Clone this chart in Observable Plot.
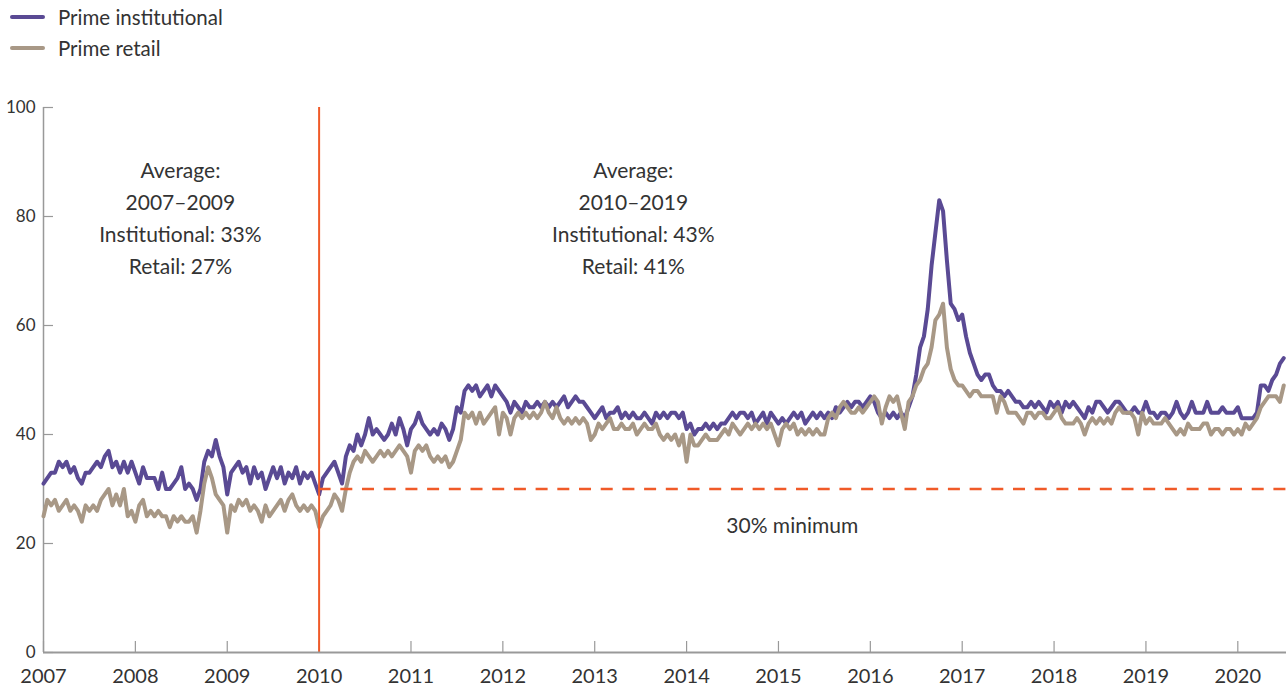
<!DOCTYPE html>
<html><head><meta charset="utf-8">
<script src="https://cdn.jsdelivr.net/npm/d3@7"></script>
<script src="https://cdn.jsdelivr.net/npm/@observablehq/plot@0.6"></script>
<style>
body{margin:0;background:#fff;font-family:Lato,"Open Sans",sans-serif;}
#legend{height:80px;position:relative;}
.item{position:absolute;left:10px;display:flex;align-items:center;font-size:20.5px;color:#333;line-height:24px;}
.sw{width:35px;height:4px;border-radius:2px;margin-right:13px;}
</style></head><body>
<div id="legend"></div><div id="chart"></div>
<script>
// Weekly-ish series, two readings per month from Jan 2007
const startYear = 2007;
const perYear = 24;
const seriesNames = ["Prime institutional", "Prime retail"];
const seriesColors = ["#5a4a94", "#a89886"];

const institutional = [
// 2007
31,32,33,33,35,34,35,33,34,32,31,33,33,34,35,34,36,37,34,35,33,35,33,35,
// 2008
33,31,34,32,32,32,30,33,30,30,31,32,34,30,31,30,28,30,35,37,36,39,36,34,
// 2009
29,33,34,35,33,34,31,34,32,33,30,32,34,32,34,31,33,32,34,31,33,32,33,31,
// 2010
29,32,33,34,35,33,31,36,38,37,40,38,40,43,40,41,40,39,40,42,40,43,41,38,
// 2011
41,42,44,42,41,40,41,40,42,41,39,41,45,44,48,49,48,49,47,48,49,47,49,48,
// 2012
47,46,44,46,45,44,46,45,45,46,45,46,45,46,45,46,47,45,46,47,46,46,45,44,
// 2013
43,44,45,43,44,44,45,43,44,43,44,43,43,44,43,42,44,43,44,43,44,44,43,44,
// 2014
41,42,40,41,41,42,41,42,41,42,42,43,44,43,44,44,43,44,42,43,44,42,44,43,
// 2015
42,43,42,43,44,43,44,42,43,44,43,44,43,44,43,45,44,45,46,45,46,46,45,46,
// 2016
47,46,44,43,44,43,44,43,44,43,45,47,51,56,58,63,71,77,83,81,72,64,63,61,
// 2017
62,58,55,53,51,50,51,51,49,48,48,47,48,47,46,46,45,45,46,45,46,45,44,46,
// 2018
45,46,44,46,45,46,45,44,43,45,44,46,46,45,44,45,46,46,45,44,44,45,44,44,
// 2019
46,44,44,43,44,44,43,44,46,44,43,44,46,44,44,44,46,44,44,44,45,44,44,44,
// 2020
45,43,43,43,43,44,49,49,48,50,51,53,54
];

const retail = [
// 2007
25,28,27,28,26,27,28,26,27,26,24,27,26,27,26,28,29,30,27,29,27,30,25,26,
// 2008
24,27,28,25,26,25,26,25,25,23,25,24,25,24,24,25,22,26,31,34,32,29,28,27,
// 2009
22,27,26,28,27,28,26,27,26,24,27,25,26,27,28,26,28,29,27,26,27,26,27,26,
// 2010
23,25,26,27,29,28,26,30,33,35,36,35,37,36,35,36,37,36,37,36,37,38,37,36,
// 2011
33,37,38,37,38,36,35,36,35,36,34,35,37,39,44,43,44,42,44,42,43,44,45,40,
// 2012
44,43,40,43,44,43,44,43,44,43,44,46,44,43,45,43,42,43,42,43,42,43,42,39,
// 2013
40,42,41,42,43,41,41,42,41,41,42,40,41,42,41,41,42,40,39,40,39,40,38,40,
// 2014
35,40,38,38,39,40,39,39,39,40,41,40,42,41,40,41,42,41,42,41,42,41,42,40,
// 2015
38,41,42,41,42,40,41,40,41,40,41,40,40,43,44,43,45,46,45,44,44,45,44,45,
// 2016
46,47,46,42,45,47,46,47,44,41,46,47,49,50,52,53,56,61,62,64,56,52,50,49,
// 2017
49,48,47,48,48,47,47,47,47,44,47,46,44,44,44,43,42,44,44,43,44,44,43,43,
// 2018
44,45,43,42,42,42,43,42,40,42,43,42,43,42,43,42,44,45,44,44,44,43,40,44,
// 2019
42,43,42,42,42,43,42,41,40,41,40,42,41,41,41,42,42,40,41,41,40,41,41,40,
// 2020
41,40,42,41,42,43,45,46,47,47,47,46,49
];

const xTicks = [2007,2008,2009,2010,2011,2012,2013,2014,2015,2016,2017,2018,2019,2020];
const yTicks = [0,20,40,60,80,100];
const xDomain = [2007, 2020.53];
const ruleYear = 2010;
const minimumLevel = 30;
const annotations = [
  {x: 2008.49, y: 80.1, text: "Average:\n2007–2009\nInstitutional: 33%\nRetail: 27%"},
  {x: 2013.42, y: 80.1, text: "Average:\n2010–2019\nInstitutional: 43%\nRetail: 41%"},
  {x: 2015.15, y: 23.8, text: "30% minimum"}
];

const rows = [];
[institutional, retail].forEach((arr, k) => arr.forEach((v, i) => rows.push({t: startYear + i / perYear, v, s: seriesNames[k]})));

// legend
const legend = document.getElementById("legend");
seriesNames.forEach((n, k) => {
  const d = document.createElement("div");
  d.className = "item";
  d.style.top = (5 + k * 31) + "px";
  d.innerHTML = `<span class="sw" style="background:${seriesColors[k]}"></span><span>${n}</span>`;
  legend.appendChild(d);
});

const W = 1286, H = 612, mT = 27, mB = 40, mL = 43, mR = 0;
const orange = "#f05a28";
const chart = Plot.plot({
  width: W, height: H, marginTop: mT, marginBottom: mB, marginLeft: mL, marginRight: mR,
  style: {fontFamily: "Lato, 'Open Sans', sans-serif", color: "#333", background: "#fff"},
  x: {domain: xDomain},
  y: {domain: [0, 100]},
  color: {domain: seriesNames, range: seriesColors},
  marks: [
    Plot.tickY(yTicks, {y: d => d, stroke: "#999", strokeWidth: 1.2, insetRight: W - mL - mR - 10}),
    Plot.tickX(xTicks, {x: d => d, stroke: "#999", strokeWidth: 1.2, insetTop: H - mT - mB - 11}),
    Plot.ruleX([xDomain[0]], {y1: 0, y2: 100, stroke: "#999", strokeWidth: 1.5}),
    Plot.axisY(yTicks, {tickSize: 0, tickPadding: 8, fontSize: 17}),
    Plot.axisX(xTicks, {tickSize: 0, tickPadding: 16, fontSize: 20, tickFormat: d => String(d)}),
    Plot.line(rows, {x: "t", y: "v", z: "s", stroke: "s", strokeWidth: 4, curve: "linear"}),
    Plot.ruleX([ruleYear], {y1: 0, y2: 100, stroke: orange, strokeWidth: 2}),
    Plot.ruleY([minimumLevel], {x1: ruleYear, x2: xDomain[1], stroke: orange, strokeWidth: 2.6, strokeDasharray: "12,9.7"}),
    Plot.ruleY([0], {stroke: "#999", strokeWidth: 1.8}),
    Plot.text(annotations, {x: "x", y: "y", text: "text", fontSize: 21, lineHeight: 1.52, fill: "#333"})
  ]
});
document.getElementById("chart").appendChild(chart);
</script>
</body></html>
